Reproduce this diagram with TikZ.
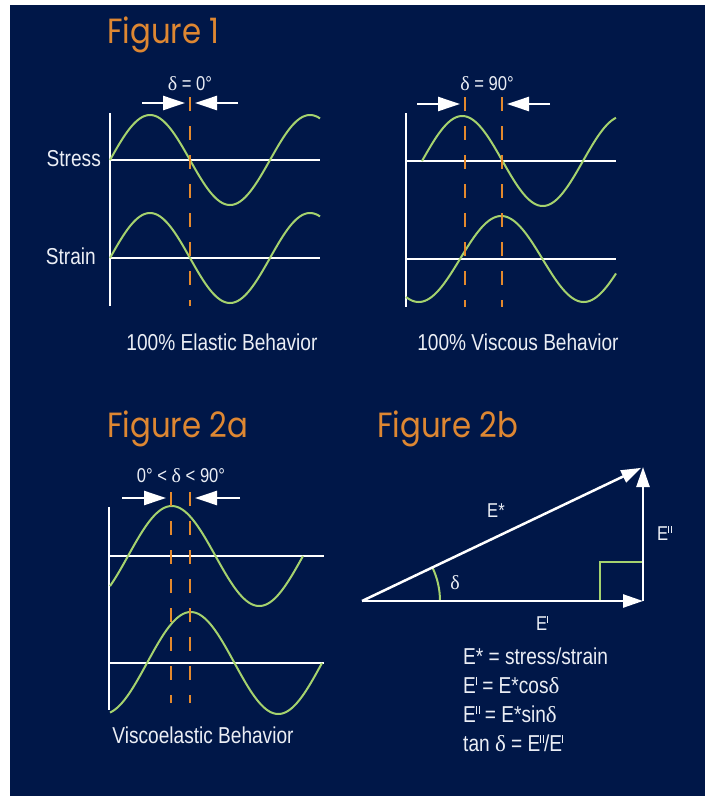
\documentclass[tikz,border=0pt]{standalone}
\usepackage{fontspec}
\setmainfont{Liberation Sans}[FakeStretch=0.83]
\newfontfamily\figfont{Poppins}[FakeStretch=0.88]
\newfontfamily\grkfont{Liberation Serif}
\usetikzlibrary{arrows.meta}
\definecolor{navy}{RGB}{0,23,72}
\definecolor{wgreen}{RGB}{165,210,110}
\definecolor{dorange}{RGB}{228,137,45}
\definecolor{otitle}{RGB}{222,135,50}
\definecolor{offwhite}{RGB}{235,238,245}
\newcommand{\dl}{{\grkfont δ}}
\newcommand{\pI}{\raisebox{0.38em}{\rule{0.045em}{0.34em}}}
\newcommand{\pII}{\raisebox{0.38em}{\rule{0.045em}{0.34em}\hspace{0.07em}\rule{0.045em}{0.34em}}}
\begin{document}
\begin{tikzpicture}[x=1pt,y=-1pt,
  axis/.style={draw=white,line width=2.5pt},
  wave/.style={draw=wgreen,line width=2pt,samples=150,smooth},
  phase/.style={draw=dorange,line width=2.5pt,dash pattern=on 13.5pt off 15.5pt},
  gap/.style={draw=white,line width=2.5pt,-{Triangle[length=22pt,width=14pt]}},
  vec/.style={draw=white,line width=2.5pt,-{Triangle[length=20pt,width=13pt]}},
  lbl/.style={text=offwhite,font=\fontsize{23}{29}\selectfont,inner sep=0pt},
  slbl/.style={text=offwhite,font=\fontsize{20}{24}\selectfont,inner sep=0pt},
  ttl/.style={text=otitle,font=\figfont\fontsize{35}{40}\selectfont,inner sep=0pt,anchor=base west},
]
\fill[navy] (10,5) rectangle (705,796);
\useasboundingbox (0,0) rectangle (705,796);

% ---------- Figure 1 ----------
\node[ttl] (t1) at (107,43) {Figure 1};

% left: elastic
\coordinate (a1t) at (110,113); \coordinate (a1b) at (110,306);
\draw[axis] (a1t) -- (a1b);
\coordinate (s1l) at (110,160); \coordinate (s1r) at (320,160);
\coordinate (e1l) at (110,258); \coordinate (e1r) at (320,258);
\draw[axis] (s1l) -- (s1r);
\draw[axis] (e1l) -- (e1r);
\draw[wave] plot[domain=110:320] (\x,{160-45*sin((\x-110)/160*360)});
\draw[wave] plot[domain=110:320] (\x,{258-45*sin((\x-110)/160*360)});
\coordinate (p1t) at (190,97); \coordinate (p1b) at (190,306);
\draw[phase] (p1t) -- (p1b);
\coordinate (g1a) at (142,103); \coordinate (g1b) at (185,103);
\coordinate (g1c) at (238,103); \coordinate (g1d) at (195,103);
\draw[gap] (g1a) -- (g1b);
\draw[gap] (g1c) -- (g1d);
\node[slbl] (d1) at (190,84) {\dl\ = 0°};
\node[lbl,anchor=east] (stress) at (101,159) {Stress};
\node[lbl,anchor=east] (strain) at (96,256) {Strain};
\node[lbl] (el) at (222,342) {100\% Elastic Behavior};

% right: viscous
\coordinate (a2t) at (406,113); \coordinate (a2b) at (406,307);
\draw[axis] (a2t) -- (a2b);
\coordinate (s2l) at (406,161); \coordinate (s2r) at (616,161);
\coordinate (e2l) at (406,259); \coordinate (e2r) at (616,259);
\draw[axis] (s2l) -- (s2r);
\draw[axis] (e2l) -- (e2r);
\draw[wave] plot[domain=422:616] (\x,{161-45*sin((\x-422)/161*360)});
\draw[wave] plot[domain=406:616] (\x,{259-43*sin((\x-460)/165*360)});
\coordinate (p2t) at (465,97); \coordinate (p2b) at (465,307);
\coordinate (p3t) at (502,97); \coordinate (p3b) at (502,307);
\draw[phase] (p2t) -- (p2b);
\draw[phase] (p3t) -- (p3b);
\coordinate (g2a) at (417,104); \coordinate (g2b) at (460,104);
\coordinate (g2c) at (550,104); \coordinate (g2d) at (507,104);
\draw[gap] (g2a) -- (g2b);
\draw[gap] (g2c) -- (g2d);
\node[slbl] (d2) at (487,84) {\dl\ = 90°};
\node[lbl] (vi) at (518,342) {100\% Viscous Behavior};

% ---------- Figure 2a ----------
\node[ttl] (t2a) at (107,437) {Figure 2a};
\coordinate (a3t) at (109,507); \coordinate (a3b) at (109,710);
\draw[axis] (a3t) -- (a3b);
\coordinate (s3l) at (109,556); \coordinate (s3r) at (324,556);
\coordinate (e3l) at (109,663); \coordinate (e3r) at (324,663);
\draw[axis] (s3l) -- (s3r);
\draw[axis] (e3l) -- (e3r);
\draw[wave] plot[domain=110:303] (\x,{556-50*sin((\x-128)/175*360)});
\draw[wave] plot[domain=110:322] (\x,{663-51*sin((\x-147)/175*360)});
\coordinate (p4t) at (171,492); \coordinate (p4b) at (171,703);
\coordinate (p5t) at (190,492); \coordinate (p5b) at (190,703);
\draw[phase] (p4t) -- (p4b);
\draw[phase] (p5t) -- (p5b);
\coordinate (g3a) at (122,498); \coordinate (g3b) at (166,498);
\coordinate (g3c) at (240,498); \coordinate (g3d) at (195,498);
\draw[gap] (g3a) -- (g3b);
\draw[gap] (g3c) -- (g3d);
\node[slbl] (d3) at (181,476) {0° < \dl\ < 90°};
\node[lbl] (ve) at (203,735) {Viscoelastic Behavior};

% ---------- Figure 2b ----------
\node[ttl] (t2b) at (377,437) {Figure 2b};
\coordinate (O) at (362,601);
\coordinate (R) at (643,601);
\coordinate (T) at (643,467);
\coordinate (q1) at (600,601); \coordinate (q2) at (600,562); \coordinate (q3) at (643,562);
\draw[wgreen,line width=2pt] (q1) -- (q2) -- (q3);
\draw[wgreen,line width=2pt] (440,601) arc[start angle=0,end angle=-25.5,radius=78];
\draw[vec] (O) -- (R);
\draw[vec] (R) -- (T);
\draw[vec,shorten >=2pt] (O) -- (T);
\node[slbl] (dd) at (455,583) {\dl};
\node[slbl,anchor=west] (Es) at (487,511) {E*};
\node[slbl,anchor=west] (Epp) at (657,533) {E\pII};
\node[slbl] (Ep) at (542,623) {E\pI};
\node[lbl,anchor=north west,align=left] (eq) at (463,648)
  {E* = stress/strain\\E\pI\ = E*cos\dl\\E\pII\ = E*sin\dl\\tan \dl\ = E\pII/E\pI};
\end{tikzpicture}
\end{document}
